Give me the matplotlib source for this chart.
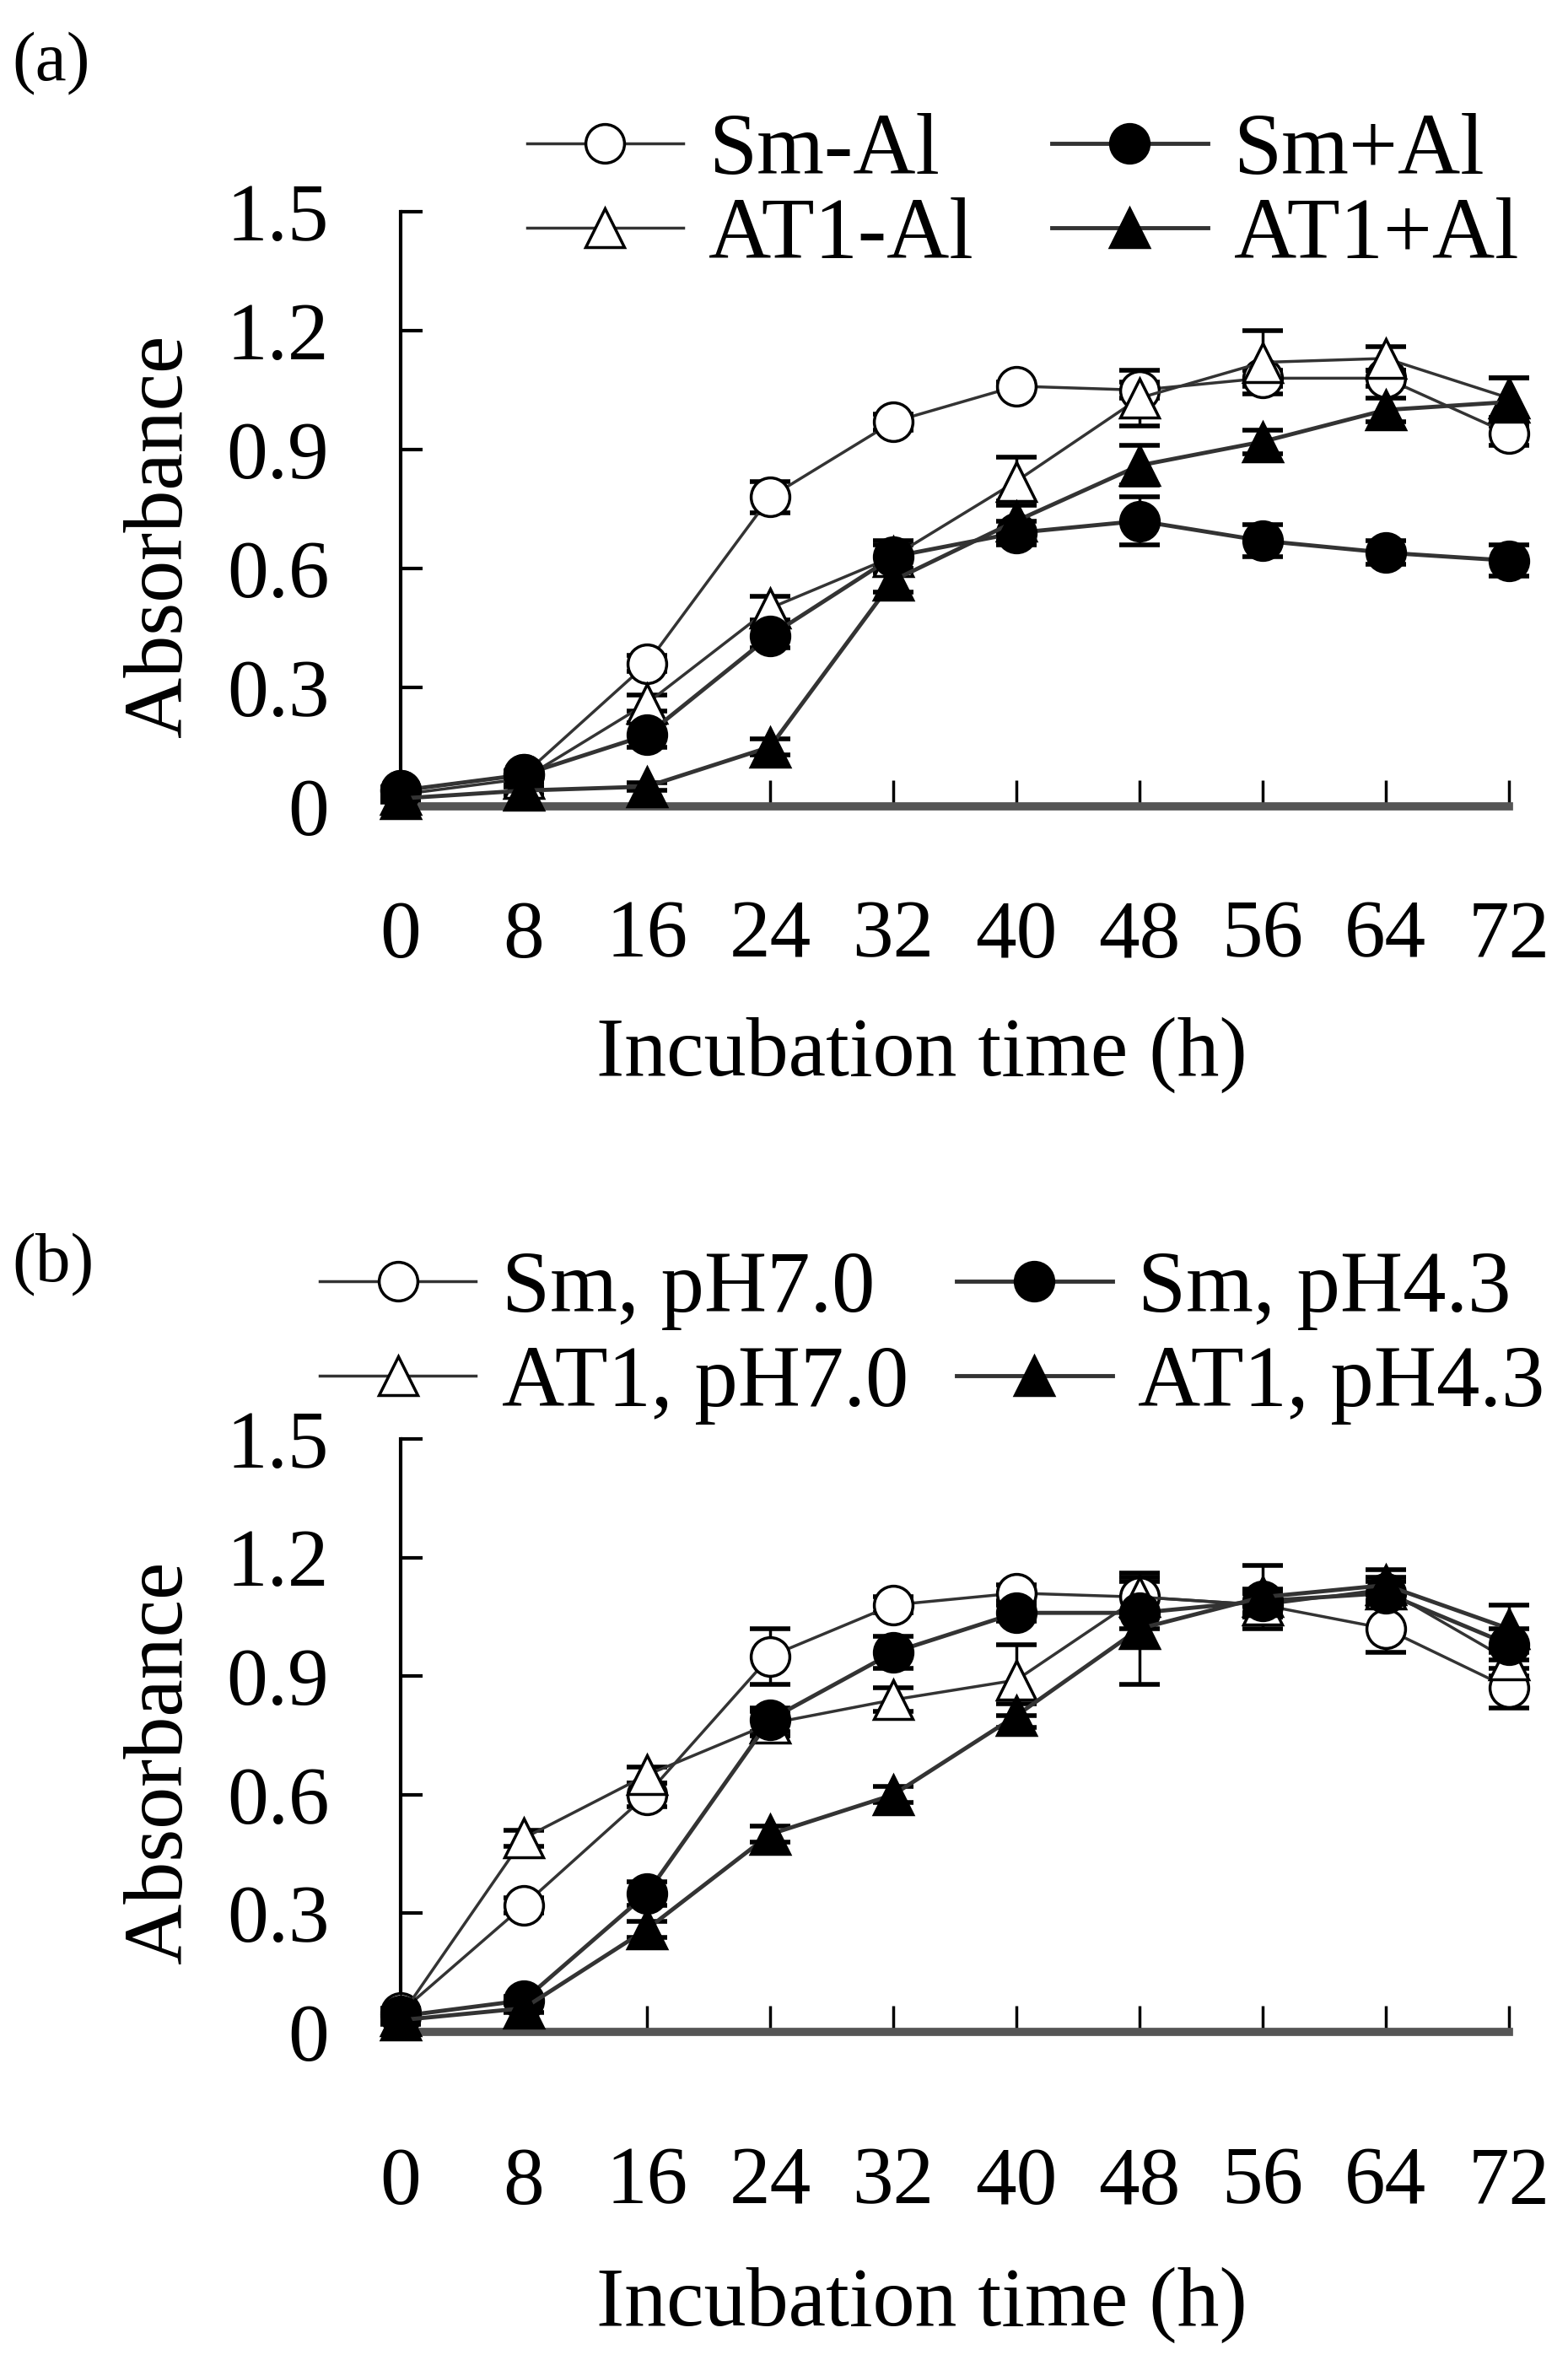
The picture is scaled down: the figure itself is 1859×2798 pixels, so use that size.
import matplotlib.pyplot as plt
import numpy as np

plt.rcParams['font.family'] = ['Liberation Serif', 'DejaVu Serif']

# sampling times (h)
hours = [0, 8, 16, 24, 32, 40, 48, 56, 64, 72]

# panel (a): growth with / without Al
labels_a = ['Sm-Al', 'AT1-Al', 'Sm+Al', 'AT1+Al']
sm_minus_al = [0.04, 0.08, 0.36, 0.78, 0.97, 1.06, 1.05, 1.08, 1.08, 0.94]
sm_minus_al_err = [0.01, 0.01, 0.02, 0.04, 0.02, 0.01, 0.02, 0.02, 0.02, 0.03]
at1_minus_al = [0.03, 0.07, 0.26, 0.50, 0.63, 0.82, 1.03, 1.12, 1.13, 1.03]
at1_minus_al_err = [0.01, 0.01, 0.02, 0.03, 0.03, 0.06, 0.07, 0.08, 0.03, 0.05]
sm_plus_al = [0.04, 0.08, 0.18, 0.43, 0.63, 0.69, 0.72, 0.67, 0.64, 0.62]
sm_plus_al_err = [0.01, 0.01, 0.03, 0.03, 0.04, 0.03, 0.06, 0.04, 0.03, 0.04]
at1_plus_al = [0.02, 0.04, 0.05, 0.15, 0.57, 0.72, 0.86, 0.92, 1.00, 1.02]
at1_plus_al_err = [0.01, 0.01, 0.01, 0.02, 0.03, 0.05, 0.05, 0.03, 0.03, 0.06]

# panel (b): growth at pH 7.0 / 4.3
labels_b = ['Sm, pH7.0', 'AT1, pH7.0', 'Sm, pH4.3', 'AT1, pH4.3']
sm_ph70 = [0.05, 0.32, 0.60, 0.95, 1.08, 1.11, 1.10, 1.08, 1.02, 0.87]
sm_ph70_err = [0.01, 0.02, 0.03, 0.07, 0.02, 0.02, 0.05, 0.03, 0.06, 0.05]
at1_ph70 = [0.04, 0.49, 0.65, 0.78, 0.84, 0.89, 1.10, 1.08, 1.12, 0.94]
at1_ph70_err = [0.01, 0.02, 0.02, 0.03, 0.03, 0.09, 0.04, 0.03, 0.03, 0.04]
sm_ph43 = [0.04, 0.08, 0.35, 0.79, 0.96, 1.06, 1.06, 1.09, 1.11, 0.98]
sm_ph43_err = [0.01, 0.01, 0.03, 0.03, 0.04, 0.02, 0.04, 0.03, 0.03, 0.04]
at1_ph43 = [0.03, 0.06, 0.26, 0.50, 0.60, 0.80, 1.02, 1.10, 1.13, 1.02]
at1_ph43_err = [0.01, 0.01, 0.02, 0.02, 0.02, 0.03, 0.14, 0.08, 0.04, 0.06]

yticks = [0, 0.3, 0.6, 0.9, 1.2, 1.5]
ytick_labels = ['0', '0.3', '0.6', '0.9', '1.2', '1.5']

styles = [
    dict(marker='o', mfc='white', lw=2.5),
    dict(marker='^', mfc='white', lw=2.5),
    dict(marker='o', mfc='black', lw=3.5),
    dict(marker='^', mfc='black', lw=3.5),
]

fig = plt.figure(figsize=(18.59, 27.98), dpi=100)
ax_a = fig.add_axes([0.2555, 0.6583, 0.7068, 0.2520])
ax_b = fig.add_axes([0.2555, 0.1390, 0.7068, 0.2513])


def draw_panel(ax, values, errors, labels, legend_xy, colspace, labspace, xlab_y, tickpad):
    handles = []
    for y, e, lab, st in zip(values, errors, labels, styles):
        ax.errorbar(hours, y, yerr=e, fmt='none', ecolor='black', elinewidth=2.5,
                    capsize=17, capthick=4, zorder=2, clip_on=False)
        h, = ax.plot(hours, y, color='#333333', lw=st['lw'], marker=st['marker'],
                     ms=33, mfc=st['mfc'], mec='black', mew=2.5, label=lab,
                     zorder=3, clip_on=False)
        handles.append(h)
    ax.set_xlim(0, 72)
    ax.set_ylim(0, 1.5)
    ax.set_xticks(hours)
    ax.set_yticks(yticks)
    ax.set_yticklabels(ytick_labels)
    for s in ['top', 'right']:
        ax.spines[s].set_visible(False)
    ax.spines['left'].set_linewidth(3)
    ax.spines['left'].set_color('black')
    ax.spines['bottom'].set_linewidth(7)
    ax.spines['bottom'].set_color('#555555')
    ax.tick_params(axis='y', direction='in', length=19, width=3, pad=61, labelsize=70)
    ax.tick_params(axis='x', direction='in', length=22, width=2.5, pad=tickpad, labelsize=70)
    ax.set_xlabel('Incubation time (h)', fontsize=72)
    ax.set_ylabel('Absorbance', fontsize=72)
    ax.xaxis.set_label_coords(0.47, xlab_y)
    ax.yaxis.set_label_coords(-0.182, 0.455)
    ax.legend(handles=handles, ncol=2, loc='center left', bbox_to_anchor=legend_xy,
              bbox_transform=fig.transFigure, frameon=False, fontsize=74,
              handlelength=1.8, handletextpad=0.3, columnspacing=colspace,
              labelspacing=labspace, borderpad=0, borderaxespad=0)


draw_panel(ax_a, [sm_minus_al, at1_minus_al, sm_plus_al, at1_plus_al],
           [sm_minus_al_err, at1_minus_al_err, sm_plus_al_err, at1_plus_al_err],
           labels_a, (0.336, 0.9175), 0.9, 0.06, -0.354, 80)
draw_panel(ax_b, [sm_ph70, at1_ph70, sm_ph43, at1_ph43],
           [sm_ph70_err, at1_ph70_err, sm_ph43_err, at1_ph43_err],
           labels_b, (0.2039, 0.4332), 0.55, 0.17, -0.396, 98)

fig.text(0.008, 1 - 76 / 2798, '(a)', fontsize=60, va='center', ha='left')
fig.text(0.008, 1 - 1500 / 2798, '(b)', fontsize=60, va='center', ha='left')

plt.savefig('out.png', dpi=100)
